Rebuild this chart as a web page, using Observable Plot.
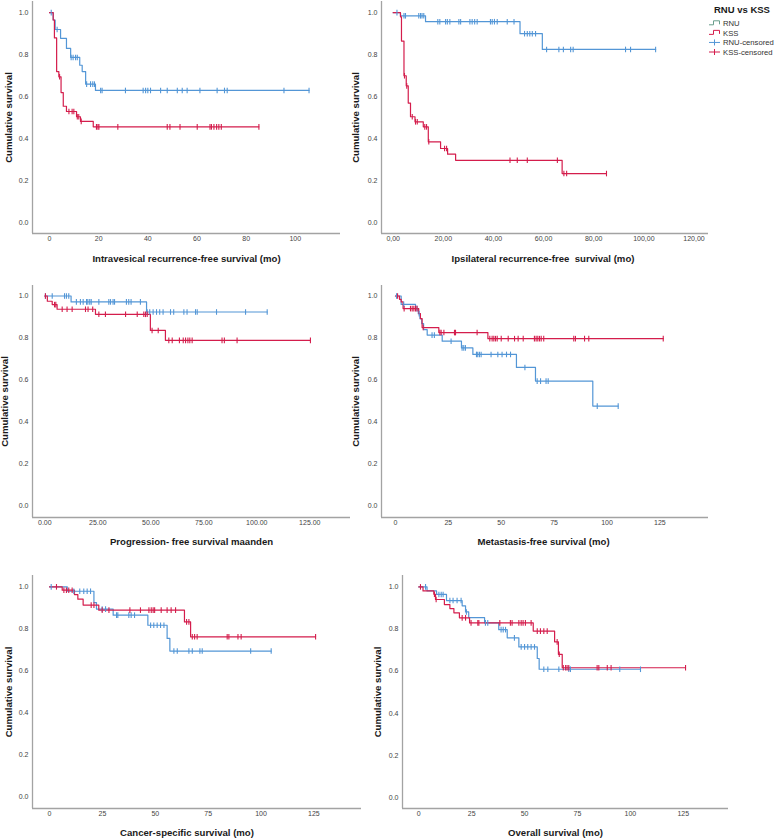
<!DOCTYPE html>
<html>
<head>
<meta charset="utf-8">
<title>RNU vs KSS – Kaplan–Meier curves</title>
<script src="https://cdn.jsdelivr.net/npm/d3@7"></script>
<script src="https://cdn.jsdelivr.net/npm/@observablehq/plot@0.6"></script>
<style>
  html, body { margin: 0; padding: 0; background: #fff; }
  #figure { position: relative; width: 774px; height: 838px; overflow: hidden;
            font-family: "Liberation Sans", Arial, sans-serif; }
</style>
</head>
<body>
<div id="figure"></div>
<script>
// ---------- Kaplan–Meier estimates: event times (mo), survival after each event, censored times ----------

// Intravesical recurrence-free survival
const ivRnuTimes = [1.5, 2.3, 4.5, 6.9, 8.6, 12.3, 13.3, 14.7, 18.7];
const ivRnuSurv = [0.965, 0.92, 0.878, 0.83, 0.787, 0.75, 0.72, 0.66, 0.63];
const ivRnuCensored = [0.7, 3.1, 8.8, 9.6, 10.6, 11.3, 15.1, 16.7, 17.6, 18.3, 20.8, 21.4, 30.9, 38.1, 39.1, 40.0, 41.1, 45.2, 47.9, 52.0, 54.0, 56.0, 61.2, 68.2, 71.2, 72.3, 95.4, 105.6];
const ivKssTimes = [1.5, 2.0, 2.9, 3.8, 4.7, 5.6, 6.9, 11.0, 12.6, 17.8];
const ivKssSurv = [0.965, 0.88, 0.72, 0.695, 0.62, 0.555, 0.53, 0.505, 0.483, 0.457];
const ivKssCensored = [4.1, 7.9, 9.2, 9.9, 11.3, 11.9, 12.9, 19.1, 19.7, 20.1, 27.8, 47.9, 49.0, 53.1, 60.1, 65.3, 65.9, 66.9, 68.0, 68.9, 69.9, 85.2];

// Ipsilateral recurrence-free survival
const ipRnuTimes = [2.9, 12.9, 50.6, 59.5];
const ipRnuSurv = [0.985, 0.957, 0.90, 0.825];
const ipRnuCensored = [1.5, 4.3, 4.9, 10.2, 10.9, 11.5, 12.2, 17.8, 18.6, 20.9, 21.6, 22.6, 26.2, 26.9, 30.6, 31.5, 32.5, 33.5, 38.8, 39.5, 40.4, 41.5, 45.5, 48.2, 52.4, 53.5, 54.5, 55.5, 56.8, 61.2, 66.1, 67.9, 70.8, 71.8, 92.7, 94.7, 104.7];
const ipKssTimes = [2.9, 3.3, 4.3, 5.2, 6.0, 6.9, 8.7, 12.0, 14.0, 18.9, 21.7, 24.9, 67.4];
const ipKssSurv = [0.98, 0.865, 0.70, 0.652, 0.57, 0.505, 0.481, 0.457, 0.386, 0.354, 0.327, 0.298, 0.235];
const ipKssCensored = [4.5, 5.4, 7.6, 8.9, 9.6, 12.6, 13.3, 14.2, 20.5, 21.3, 46.6, 49.5, 53.5, 65.5, 68.1, 69.2, 85.1];

// Progression-free survival
const pfRnuTimes = [12.4, 48.0];
const pfRnuSurv = [0.972, 0.924];
const pfRnuCensored = [0.3, 3.5, 9.3, 10.2, 11.3, 14.9, 16.8, 18.1, 19.7, 20.3, 21.2, 21.9, 25.5, 30.2, 31.0, 32.2, 32.9, 38.5, 39.6, 40.7, 45.1, 48.3, 49.5, 51.1, 52.7, 54.2, 55.8, 59.3, 60.8, 65.6, 67.1, 71.1, 71.9, 81.0, 94.7, 104.9];
const pfKssTimes = [1.2, 3.5, 5.8, 23.9, 49.8, 56.9];
const pfKssSurv = [0.975, 0.959, 0.937, 0.913, 0.836, 0.789];
const pfKssCensored = [0.3, 4.6, 5.2, 8.2, 10.5, 12.9, 19.2, 20.4, 22.6, 25.5, 28.6, 38.1, 43.6, 46.7, 47.5, 48.3, 50.6, 53.5, 58.5, 60.1, 63.5, 65.3, 66.4, 67.5, 68.4, 69.5, 83.6, 84.7, 90.7, 125.3];

// Metastasis-free survival
const mfRnuTimes = [2.7, 9.5, 10.8, 11.6, 12.4, 13.3, 15.0, 22.1, 31.2, 36.6, 57.2, 66.2, 93.3];
const mfRnuSurv = [0.96, 0.94, 0.916, 0.892, 0.869, 0.84, 0.814, 0.785, 0.753, 0.722, 0.66, 0.595, 0.476];
const mfRnuCensored = [0.5, 3.9, 10.2, 11.2, 17.3, 18.4, 26.3, 31.5, 32.3, 33.1, 38.3, 38.9, 39.7, 40.5, 45.2, 48.4, 50.4, 52.5, 54.4, 61.2, 67.0, 68.6, 71.2, 72.2, 95.4, 105.3];
const mfKssTimes = [1.9, 2.7, 3.6, 11.0, 11.8, 12.6, 20.5, 43.7];
const mfKssSurv = [0.984, 0.972, 0.94, 0.916, 0.892, 0.85, 0.826, 0.797];
const mfKssCensored = [1.0, 4.1, 7.1, 7.9, 8.7, 9.5, 10.2, 13.1, 21.0, 21.6, 22.9, 27.9, 28.4, 38.6, 44.6, 45.7, 46.5, 47.3, 48.1, 50.0, 53.3, 56.3, 58.0, 60.4, 65.7, 66.5, 67.3, 68.1, 68.9, 70.1, 84.3, 85.1, 89.4, 91.4, 126.6];

// Cancer-specific survival
const csRnuTimes = [8.4, 21.0, 22.2, 30.1, 46.5, 55.6, 56.9];
const csRnuSurv = [0.979, 0.925, 0.894, 0.865, 0.817, 0.754, 0.694];
const csRnuCensored = [0.8, 11.5, 14.3, 16.2, 17.8, 19.4, 24.9, 26.5, 31.7, 32.3, 37.5, 38.6, 40.2, 47.8, 49.3, 50.9, 52.5, 54.1, 58.8, 60.4, 65.9, 67.5, 71.1, 72.2, 95.1, 104.8];
const csKssTimes = [6.0, 11.8, 13.4, 15.9, 23.3, 63.8, 66.7];
const csKssSurv = [0.984, 0.963, 0.941, 0.913, 0.889, 0.833, 0.762];
const csKssCensored = [3.3, 6.8, 8.0, 9.1, 10.7, 19.7, 21.0, 24.9, 28.1, 38.0, 43.0, 47.0, 48.1, 49.0, 49.7, 52.8, 55.6, 57.5, 59.6, 64.8, 65.9, 67.5, 68.6, 69.8, 84.0, 84.8, 89.1, 90.6, 125.8];

// Overall survival
const osRnuTimes = [3.9, 8.4, 13.1, 20.5, 22.1, 23.6, 31.1, 37.8, 41.8, 47.3, 56.0, 56.9];
const osRnuSurv = [0.981, 0.964, 0.935, 0.91, 0.881, 0.854, 0.829, 0.797, 0.758, 0.715, 0.66, 0.609];
const osRnuCensored = [3.2, 9.5, 10.6, 11.5, 14.7, 16.2, 18.1, 20.0, 22.5, 31.5, 32.6, 38.9, 39.9, 41.0, 45.2, 48.4, 50.0, 51.5, 53.1, 54.7, 59.1, 61.0, 66.2, 70.9, 71.7, 95.0, 104.8];
const osKssTimes = [2.0, 7.1, 7.9, 12.1, 14.7, 16.6, 19.2, 24.0, 54.1, 64.2, 66.0, 67.8];
const osKssSurv = [0.981, 0.965, 0.94, 0.916, 0.897, 0.877, 0.853, 0.829, 0.79, 0.739, 0.68, 0.616];
const osKssCensored = [0.8, 7.4, 8.2, 20.5, 22.1, 24.7, 27.9, 28.4, 38.3, 43.3, 44.1, 47.3, 48.4, 49.3, 50.4, 53.1, 56.0, 57.5, 59.1, 60.7, 65.4, 66.4, 68.3, 69.4, 70.1, 70.9, 84.3, 85.1, 89.1, 90.9, 126.1];

// ---------- labels and ticks ----------
const xTitles = [
  "Intravesical recurrence-free survival (mo)",
  "Ipsilateral recurrence-free  survival (mo)",
  "Progression- free survival maanden",
  "Metastasis-free survival (mo)",
  "Cancer-specific survival (mo)",
  "Overall survival (mo)"
];
const yTitle = "Cumulative survival";
const yTicks = [0, 0.2, 0.4, 0.6, 0.8, 1.0];
const xTicks20 = [0, 20, 40, 60, 80, 100];
const xTicks20Wide = [0, 20, 40, 60, 80, 100, 120];
const xTicks25 = [0, 25, 50, 75, 100, 125];
const legendTitle = "RNU vs KSS";
const legendLabels = ["RNU", "KSS", "RNU-censored", "KSS-censored"];

// ---------- styling ----------
const BLUE = "#5396d6";
const RED = "#d41d4c";
const RNU_KEY = "#6a9e8c";
const AXIS = "#a3a3a3";
const TICK = "#444";
const TITLE = "#1a1a1a";
const FONT = "'Liberation Sans', Arial, sans-serif";

// ---------- helpers ----------
function stepPoints(times, surv, censored) {
  const pts = [{t: 0, s: 1}];
  times.forEach((t, i) => pts.push({t, s: surv[i]}));
  const end = Math.max(times[times.length - 1], ...censored);
  pts.push({t: end, s: surv[surv.length - 1]});
  return pts;
}
function survivalAt(times, surv, t) {
  let s = 1;
  times.forEach((u, i) => { if (u <= t) s = surv[i]; });
  return s;
}
function censorPoints(times, surv, censored) {
  return censored.map(t => ({t, s: survivalAt(times, surv, t)}));
}
// short vertical stroke used for censored observations
const censorTick = {
  draw(context, size) {
    const r = Math.sqrt(size / Math.PI);
    context.moveTo(0, -r);
    context.lineTo(0, r);
  }
};

const fmtComma = d => d.toFixed(2).replace(".", ",");
const fmtDot2 = d3.format(".2f");
const fmtInt = d3.format("d");

// ---------- panel layout ----------
const panels = [
  {xTitle: xTitles[0], rnu: [ivRnuTimes, ivRnuSurv, ivRnuCensored], kss: [ivKssTimes, ivKssSurv, ivKssCensored],
   box: {left: 0, top: 0, width: 380, height: 270, ml: 32, mr: 40, mt: 1, mb: 37},
   xDomain: [-6.92, 118.4], yDomain: [-0.05, 1.053], xTicks: xTicks20, xFormat: fmtInt,
   xTitleDx: 0, xTitleDy: 25, yTitleDx: -23.5},
  {xTitle: xTitles[1], rnu: [ipRnuTimes, ipRnuSurv, ipRnuCensored], kss: [ipKssTimes, ipKssSurv, ipKssCensored],
   box: {left: 345, top: 0, width: 365, height: 270, ml: 36, mr: 2, mt: 1, mb: 37},
   xDomain: [-4.67, 125.8], yDomain: [-0.05, 1.053], xTicks: xTicks20Wide, xFormat: fmtComma,
   xTitleDx: -2, xTitleDy: 25, yTitleDx: -26},
  {xTitle: xTitles[2], rnu: [pfRnuTimes, pfRnuSurv, pfRnuCensored], kss: [pfKssTimes, pfKssSurv, pfKssCensored],
   box: {left: 0, top: 280, width: 380, height: 275, ml: 32, mr: 30, mt: 5, mb: 38},
   xDomain: [-5.8, 144.2], yDomain: [-0.054, 1.05], xTicks: xTicks25, xFormat: fmtDot2,
   xTitleDx: 0, xTitleDy: 24, yTitleDx: -27.5},
  {xTitle: xTitles[3], rnu: [mfRnuTimes, mfRnuSurv, mfRnuCensored], kss: [mfKssTimes, mfKssSurv, mfKssCensored],
   box: {left: 345, top: 280, width: 380, height: 275, ml: 36, mr: 17, mt: 5, mb: 38},
   xDomain: [-6.6, 148.0], yDomain: [-0.054, 1.05], xTicks: xTicks25, xFormat: fmtInt,
   xTitleDx: -1.5, xTitleDy: 24, yTitleDx: -25.4},
  {xTitle: xTitles[4], rnu: [csRnuTimes, csRnuSurv, csRnuCensored], kss: [csKssTimes, csKssSurv, csKssCensored],
   box: {left: 0, top: 560, width: 385, height: 278, ml: 32, mr: 24, mt: 15, mb: 30},
   xDomain: [-8.04, 147.5], yDomain: [-0.056, 1.054], xTicks: xTicks25, xFormat: fmtInt,
   xTitleDx: -10, xTitleDy: 24.5, yTitleDx: -24},
  {xTitle: xTitles[5], rnu: [osRnuTimes, osRnuSurv, osRnuCensored], kss: [osKssTimes, osKssSurv, osKssCensored],
   box: {left: 370, top: 560, width: 404, height: 278, ml: 32, mr: 46, mt: 15, mb: 30},
   xDomain: [-7.7, 146.4], yDomain: [-0.052, 1.054], xTicks: xTicks25, xFormat: fmtInt,
   xTitleDx: -10, xTitleDy: 24.5, yTitleDx: -25}
];

const figure = document.getElementById("figure");

for (const p of panels) {
  const b = p.box;
  const chart = Plot.plot({
    width: b.width,
    height: b.height,
    marginLeft: b.ml,
    marginRight: b.mr,
    marginTop: b.mt,
    marginBottom: b.mb,
    style: {background: "none", overflow: "visible", fontFamily: FONT},
    x: {domain: p.xDomain},
    y: {domain: p.yDomain},
    marks: [
      // axis lines along the left and bottom of the frame
      Plot.ruleX([p.xDomain[0]], {stroke: AXIS, strokeWidth: 1.3}),
      Plot.ruleY([p.yDomain[0]], {stroke: AXIS, strokeWidth: 1.3}),
      Plot.axisX({ticks: p.xTicks, tickFormat: p.xFormat, tickSize: 0, tickPadding: 3,
                  fontSize: 7, fill: TICK, label: null}),
      Plot.axisY({ticks: yTicks, tickFormat: d3.format(".1f"), tickSize: 0, tickPadding: 4,
                  fontSize: 7, fill: TICK, label: null}),
      Plot.text([p.xTitle], {text: d => d, frameAnchor: "bottom", dx: p.xTitleDx, dy: p.xTitleDy,
                             textAnchor: "middle", lineAnchor: "middle",
                             fontSize: 9.6, fontWeight: "bold", fill: TITLE}),
      Plot.text([yTitle], {text: d => d, frameAnchor: "left", rotate: -90, dx: p.yTitleDx,
                           textAnchor: "middle", lineAnchor: "middle",
                           fontSize: 9.6, fontWeight: "bold", fill: TITLE}),
      // survival step curves
      Plot.line(stepPoints(...p.rnu), {x: "t", y: "s", curve: "step-after", stroke: BLUE, strokeWidth: 1.2}),
      Plot.line(stepPoints(...p.kss), {x: "t", y: "s", curve: "step-after", stroke: RED, strokeWidth: 1.2}),
      // censored observations
      Plot.dot(censorPoints(...p.rnu), {x: "t", y: "s", symbol: censorTick, r: 2.8, fill: "none",
                                        stroke: BLUE, strokeWidth: 1.1}),
      Plot.dot(censorPoints(...p.kss), {x: "t", y: "s", symbol: censorTick, r: 2.8, fill: "none",
                                        stroke: RED, strokeWidth: 1.1})
    ]
  });
  chart.style.position = "absolute";
  chart.style.left = b.left + "px";
  chart.style.top = b.top + "px";
  figure.appendChild(chart);
}

// ---------- legend ----------
const legend = d3.create("svg")
  .attr("width", 74).attr("height", 62)
  .style("position", "absolute").style("left", "700px").style("top", "0px")
  .style("font-family", FONT);

legend.append("text")
  .attr("x", 14).attr("y", 12.6)
  .attr("font-size", 9.5).attr("font-weight", "bold").attr("fill", TITLE)
  .text(legendTitle);

const keyColors = [RNU_KEY, RED, BLUE, RED];
legendLabels.forEach((label, i) => {
  const cy = 23.3 + i * 9.57;
  const g = legend.append("g");
  if (i < 2) {
    g.append("path")
      .attr("d", `M9,${cy + 1.5}H13.5V${cy - 2.5}H19.5V${cy + 1}`)
      .attr("fill", "none").attr("stroke", keyColors[i]).attr("stroke-width", 1);
  } else {
    g.append("path")
      .attr("d", `M9,${cy}H20M14.5,${cy - 3}V${cy + 3}`)
      .attr("fill", "none").attr("stroke", keyColors[i]).attr("stroke-width", 1);
  }
  g.append("text")
    .attr("x", 23).attr("y", cy).attr("dy", "0.35em")
    .attr("font-size", 7.7).attr("fill", "#333")
    .text(label);
});
figure.appendChild(legend.node());
</script>
</body>
</html>
